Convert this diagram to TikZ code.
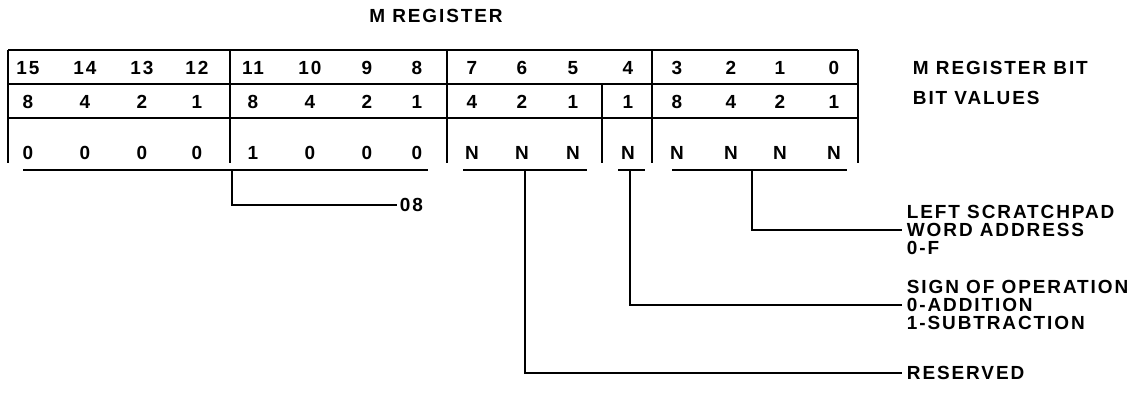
\documentclass[tikz,border=0pt]{standalone}
\usepackage{fontspec}
\setmainfont{Liberation Sans}[LetterSpace=10]
\usetikzlibrary{calc}
\begin{document}
\begin{tikzpicture}[x=0.025cm,y=-0.025cm,line width=1.3pt,
  txt/.style={font=\fontsize{13.5}{12.8}\selectfont\bfseries,inner sep=0pt},
  dig/.style={txt,anchor=base},
  lbl/.style={txt,anchor=west,align=left,outer xsep=3.5pt}]
  \useasboundingbox (0,0) rectangle (1141,402);
  \node[dig] (title) at (436,22) {M REGISTER};
  \draw (8,50) -- (858,50) (8,84) -- (858,84) (8,118) -- (858,118);
  \foreach \x in {8,230,447,652,858}
  \draw (\x,50) -- (\x,163);
  \draw (602,84) -- (602,163);
  \foreach \i/\x/\v/\c in {
  15/28/8/0,14/85/4/0,13/142/2/0,12/197/1/0,
  11/253/8/1,10/310/4/0,9/367/2/0,8/417/1/0,
  7/472/4/N,6/522/2/N,5/573/1/N,4/628/1/N,
  3/677/8/N,2/731/4/N,1/780/2/N,0/834/1/N}
  {
  \node[dig] (b\i) at (\x,74) {\i};
  \node[dig] (v\i) at (\x,108) {\v};
  \node[dig] (n\i) at (\x,159) {\c};
  }
  \node[lbl] (bitlbl) at (908,68) {M REGISTER BIT};
  \node[lbl] (vallbl) at (908,98) {BIT VALUES};
  \coordinate (u1w) at (23,170);
  \coordinate (u1e) at (428,170);
  \coordinate (u2w) at (463,170);
  \coordinate (u2e) at (587,170);
  \coordinate (u3w) at (618,170);
  \coordinate (u3e) at (645,170);
  \coordinate (u4w) at (672,170);
  \coordinate (u4e) at (847,170);
  \coordinate (k1) at (232,170);
  \coordinate (k2) at (525,170);
  \coordinate (k3) at (630,170);
  \coordinate (k4) at (752,170);
  \draw (u1w) -- (u1e) (u2w) -- (u2e) (u3w) -- (u3e) (u4w) -- (u4e);
  \node[lbl,outer xsep=2pt] (hex) at (397,205) {08};
  \node[lbl] (lsp) at (902,230) {LEFT SCRATCHPAD\\WORD ADDRESS\\0-F};
  \node[lbl] (sgn) at (902,305) {SIGN OF OPERATION\\0-ADDITION\\1-SUBTRACTION};
  \node[lbl] (res) at (902,373) {RESERVED};
  \draw (k1) |- (hex.west);
  \draw (k4) |- (lsp.west);
  \draw (k3) |- (sgn.west);
  \draw (k2) |- (res.west);
\end{tikzpicture}
\end{document}
